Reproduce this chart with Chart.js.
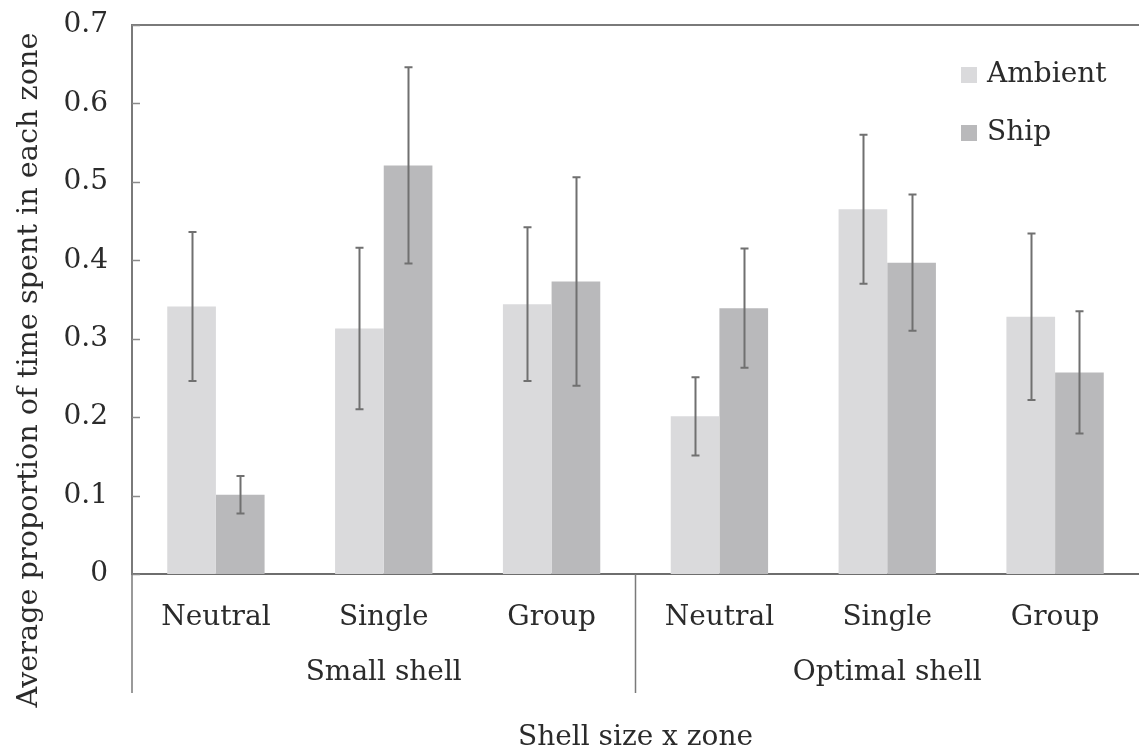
<!DOCTYPE html>
<html>
<head>
<meta charset="utf-8">
<script src="https://cdn.jsdelivr.net/npm/chart.js@4.4.1/dist/chart.umd.min.js"></script>
<style>
  html, body { margin: 0; padding: 0; background: #fff; }
  #wrap { width: 1139px; height: 753px; }
</style>
</head>
<body>
<div id="wrap"><canvas id="c" width="1139" height="753"></canvas></div>
<script>
// Zones within each shell-size group
const zones = ['Neutral', 'Single', 'Group', 'Neutral', 'Single', 'Group'];
const shellSizes = ['Small shell', 'Optimal shell'];

// Mean proportion of time spent in each zone, with standard errors
const ambient    = [0.341, 0.313, 0.344, 0.201, 0.465, 0.328];
const ambientErr = [0.095, 0.103, 0.098, 0.050, 0.095, 0.106];
const ship       = [0.101, 0.521, 0.373, 0.339, 0.397, 0.257];
const shipErr    = [0.024, 0.125, 0.133, 0.076, 0.087, 0.078];

const yTicks = [0, 0.1, 0.2, 0.3, 0.4, 0.5, 0.6, 0.7];
const yTitle = 'Average proportion of time spent in each zone';

const FONT = "'DejaVu Serif', serif";
const TEXT = '#2b2b2b';
const AXIS = '#7a7a7a';

const decor = {
  id: 'decor',
  afterDatasetsDraw(chart) {
    const { ctx, scales: { y } } = chart;
    ctx.save();
    ctx.strokeStyle = '#707070';
    ctx.lineWidth = 2;
    chart.data.datasets.forEach((ds, di) => {
      const meta = chart.getDatasetMeta(di);
      meta.data.forEach((bar, i) => {
        const v = ds.data[i], e = ds.errors[i];
        const top = y.getPixelForValue(v + e);
        const bot = y.getPixelForValue(v - e);
        const x = Math.round(bar.x) + 0.5;
        ctx.beginPath();
        ctx.moveTo(x, top); ctx.lineTo(x, bot);
        ctx.moveTo(x - 4, top); ctx.lineTo(x + 4, top);
        ctx.moveTo(x - 4, bot); ctx.lineTo(x + 4, bot);
        ctx.stroke();
      });
    });
    ctx.restore();
  },
  afterDraw(chart) {
    const { ctx, chartArea: a, scales: { x, y } } = chart;
    ctx.save();
    // frame top line
    ctx.strokeStyle = AXIS;
    ctx.lineWidth = 2;
    ctx.beginPath();
    ctx.moveTo(a.left, a.top); ctx.lineTo(a.right, a.top);
    ctx.stroke();
    // inward tick marks on the value axis
    ctx.lineWidth = 1.5;
    ctx.strokeStyle = '#8a8a8a';
    y.ticks.forEach(t => {
      const py = Math.round(y.getPixelForValue(t.value)) + 0.5;
      ctx.beginPath();
      ctx.moveTo(a.left, py); ctx.lineTo(a.left + 8, py);
      ctx.stroke();
    });
    // group separators below the axis
    const bottomY = 693;
    const divX = (x.getPixelForValue(2) + x.getPixelForValue(3)) / 2;
    ctx.strokeStyle = AXIS;
    ctx.lineWidth = 1.5;
    ctx.beginPath();
    ctx.moveTo(a.left, a.bottom); ctx.lineTo(a.left, bottomY);
    ctx.moveTo(divX, a.bottom); ctx.lineTo(divX, bottomY);
    ctx.stroke();
    // shell-size group labels
    ctx.fillStyle = TEXT;
    ctx.font = "28px " + FONT;
    ctx.textAlign = 'center';
    ctx.textBaseline = 'middle';
    shellSizes.forEach((name, g) => {
      const cx = (x.getPixelForValue(g * 3) + x.getPixelForValue(g * 3 + 2)) / 2;
      ctx.fillText(name, cx, 673);
    });
    // value-axis title
    ctx.save();
    ctx.translate(30, 370);
    ctx.rotate(-Math.PI / 2);
    ctx.font = "28.7px " + FONT;
    ctx.fillText(yTitle, 0, 0);
    ctx.restore();
    // legend
    const items = chart.data.datasets.map(d => ({ label: d.label, color: d.backgroundColor }));
    ctx.font = "28px " + FONT;
    ctx.textAlign = 'left';
    items.forEach((it, i) => {
      const cy = 75 + i * 58;
      ctx.fillStyle = it.color;
      ctx.fillRect(961, cy - 8, 16, 16);
      ctx.fillStyle = TEXT;
      ctx.fillText(it.label, 987, cy);
    });
    ctx.restore();
  }
};

new Chart(document.getElementById('c'), {
  type: 'bar',
  data: {
    labels: zones,
    datasets: [
      { label: 'Ambient', data: ambient, errors: ambientErr, backgroundColor: '#dadadc',
        barPercentage: 1.0, categoryPercentage: 0.58 },
      { label: 'Ship', data: ship, errors: shipErr, backgroundColor: '#b9b9bb',
        barPercentage: 1.0, categoryPercentage: 0.58 }
    ]
  },
  options: {
    responsive: false,
    animation: false,
    devicePixelRatio: 1,
    layout: { padding: { top: 25, right: 0, bottom: 0, left: 0 } },
    plugins: { legend: { display: false }, tooltip: { enabled: false } },
    scales: {
      x: {
        grid: { display: false, drawTicks: false },
        border: { display: true, color: '#6e6e6e', width: 2 },
        ticks: { color: TEXT, font: { family: FONT, size: 28 }, padding: 27, maxRotation: 0, autoSkip: false },
        title: { display: true, text: 'Shell size x zone', color: TEXT,
                 font: { family: FONT, size: 28 }, padding: { top: 0, bottom: -2 } },
        afterFit: s => { s.height = 179; }
      },
      y: {
        min: 0, max: 0.7,
        afterBuildTicks: s => { s.ticks = yTicks.map(v => ({ value: v })); },
        grid: { display: false, drawTicks: false },
        border: { display: true, color: AXIS, width: 2 },
        ticks: { color: TEXT, font: { family: FONT, size: 28 }, padding: 24,
                 callback: v => (v === 0 ? '0' : v.toFixed(1)) },
        afterFit: s => { s.width = 132; s.paddingTop = 0; s.paddingBottom = 0; }
      }
    }
  },
  plugins: [decor]
});
</script>
</body>
</html>
